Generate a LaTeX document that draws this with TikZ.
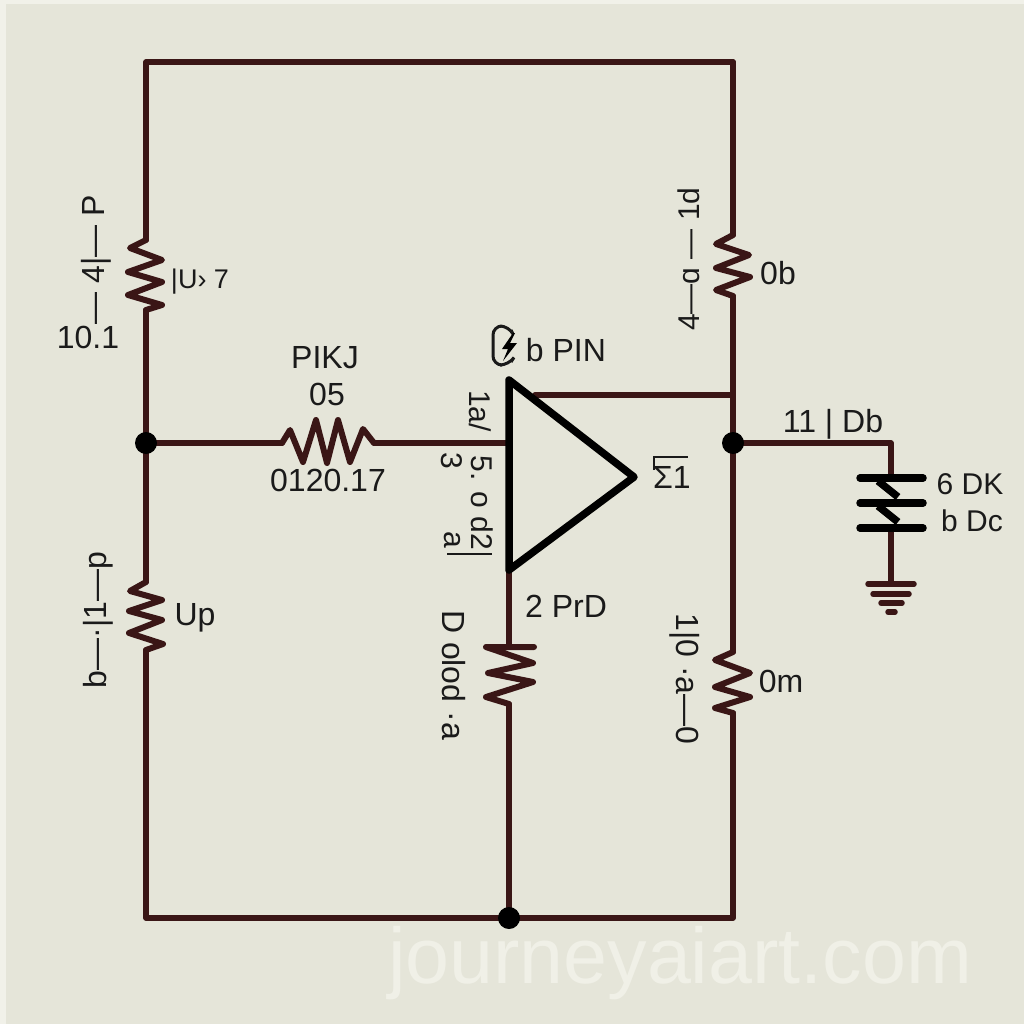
\documentclass[tikz,border=0pt]{standalone}
\usepackage{fontspec}
\setmainfont{Liberation Sans}
\definecolor{bgc}{HTML}{E5E5D9}
\definecolor{edgec}{HTML}{F1F1E9}
\definecolor{wirec}{HTML}{3A1616}
\definecolor{markc}{HTML}{F0F0E7}
\definecolor{inkc}{HTML}{1A1A1A}
\tikzset{
  wire/.style={draw=wirec,line width=5.5pt,line join=round,line cap=round},
  res/.style={draw=wirec,line width=6pt,line join=round,line cap=round},
  ampbody/.style={draw=black,line width=7.5pt,line join=round},
  plate/.style={draw=black,line width=7.5pt,line cap=round},
  gbar/.style={draw=wirec,line width=5.5pt,line cap=round},
  dot/.style={circle,fill=black,inner sep=0pt,minimum size=22pt},
  lab/.style={text=inkc,font=\fontsize{32}{32}\selectfont,inner sep=0pt},
  labs/.style={text=inkc,font=\fontsize{30}{30}\selectfont,inner sep=0pt},
  labt/.style={text=inkc,font=\fontsize{27}{27}\selectfont,inner sep=0pt},
  wmark/.style={text=markc,font=\fontsize{79}{79}\selectfont,inner sep=0pt}
}
\begin{document}
\begin{tikzpicture}[x=1pt,y=-1pt]
\useasboundingbox (0,0) rectangle (1024,1024);
\fill[edgec] (0,0) rectangle (1024,1024);
\fill[bgc] (6,4) rectangle (1024,1024);
% named points
\coordinate (tl) at (146,62);
\coordinate (tr) at (733,62);
\coordinate (bl) at (146,918);
\coordinate (br) at (733,918);
\coordinate (cbot) at (509,918);
\coordinate (jl) at (146,443);
\coordinate (jr) at (733,443);
\coordinate (capt) at (891,443);
\coordinate (capa) at (891,478);
\coordinate (capb) at (891,528);
\coordinate (gnd) at (891,584);
\coordinate (ta) at (509,380);
\coordinate (tb) at (509,570);
\coordinate (tc) at (634,477);
\coordinate (ti) at (509,443);
\coordinate (to) at (535,395);
\coordinate (tj) at (733,395);
% wires with resistors
\draw[wire] (tr) -- (tl) -- (146,240);
\draw[res] (146,240) -- (130,248) -- (162,260) -- (128,272) -- (162,282) -- (128,295) -- (162,305) -- (146,310);
\draw[wire] (146,310) -- (jl) -- (146,582);
\draw[res] (146,582) -- (130,591) -- (162,600) -- (129,611) -- (162,620) -- (129,633) -- (163,644) -- (146,650);
\draw[wire] (146,650) -- (bl) -- (br) -- (733,713);
\draw[res] (733,713) -- (715,708) -- (750,697) -- (715,687) -- (750,673) -- (715,660) -- (733,652);
\draw[wire] (733,652) -- (jr) -- (tj);
\draw[wire] (tj) -- (733,296);
\draw[res] (733,296) -- (716,290) -- (750,277) -- (716,268) -- (749,255) -- (716,244) -- (733,235);
\draw[wire] (733,235) -- (tr);
\draw[wire] (jl) -- (282,443);
\draw[res] (282,443) -- (290,430) -- (303,462) -- (316,420) -- (327,463) -- (338,420) -- (350,462) -- (363,429) -- (374,443);
\draw[wire] (374,443) -- (ti);
\draw[wire] (to) -- (tj);
\draw[wire] (tb) -- (509,647);
\draw[res] (534,647) -- (486,647) -- (533,663) -- (488,673) -- (533,682) -- (486,697) -- (509,704);
\draw[wire] (509,704) -- (cbot);
\draw[wire] (jr) -- (capt) -- (capa);
\draw[wire] (capb) -- (gnd);
% amplifier
\draw[ampbody] (ta) -- (tb) -- (tc) -- cycle;
% capacitor symbol
\draw[plate] (860,478) -- (923,478);
\draw[plate] (860,503) -- (923,503);
\draw[plate] (860,528) -- (923,528);
\draw[plate,line cap=butt] (878,481) -- (898,497);
\draw[plate,line cap=butt] (878,506) -- (898,522);
% ground
\draw[gbar] (868,584) -- (914,584);
\draw[gbar] (873,594) -- (909,594);
\draw[gbar] (881,603) -- (902,603);
\draw[gbar] (888,612) -- (895,612);
% junctions
\node[dot] (d1) at (jl) {};
\node[dot] (d2) at (jr) {};
\node[dot] (d3) at (cbot) {};
% icon
\draw[inkc,line width=3pt,rounded corners=9pt] (511,330) -- (509,326) -- (493,326) -- (493,365) -- (509,365) -- (511,362);
\fill[black] (513,333) -- (502,349) -- (508,349) -- (503,361) -- (517,343) -- (510,343) -- (515,333) -- cycle;
% labels
\node[lab] (l1) at (88,337) {10.1};
\node[lab,rotate=90] (l2) at (96,260) {— 4|— P};
\node[labt] (l3) at (200,282) {|U› 7};
\node[lab] (l4) at (325,358) {PIKJ};
\node[lab] (l5) at (327,394) {05};
\node[lab] (l6) at (328,480) {0120.17};
\node[lab,rotate=90] (l7) at (98,620) {b—·|1—p};
\node[lab] (l8) at (195,618) {Up};
\node[lab] (l9) at (566,350) {b PIN};
\node[labs,rotate=-90] (l10) at (480,411) {1a/};
\node[labs,rotate=-90] (l11) at (482,503) {5. o d2};
\node[labs,rotate=-90] (l12) at (452,540) {a};
\node[labs,rotate=-90] (l13) at (452,461) {3};
\draw[inkc,line width=1.6pt] (447,554) -- (492,554);
\node[lab] (l14) at (672,477) {Σ1};
\draw[inkc,line width=1.6pt] (654,470) -- (654,457) -- (688,457);
\node[lab] (l15) at (566,606) {2 PrD};
\node[lab,rotate=-90] (l16) at (454,675) {D olod ·a};
\node[labs,rotate=90] (l17) at (689,259) {4—ɑ — 1d};
\node[lab] (l18) at (778,273) {0b};
\node[lab] (l19) at (833,424) {11 | Db};
\node[labs] (l20) at (970,484) {6 DK};
\node[labs] (l21) at (972,521) {b Dc};
\node[lab,rotate=-90] (l22) at (685,679) {1|0 ·a—0};
\node[lab] (l23) at (781,681) {0m};
\node[wmark] (wm) at (680,963) {journeyaiart.com};
\end{tikzpicture}
\end{document}
